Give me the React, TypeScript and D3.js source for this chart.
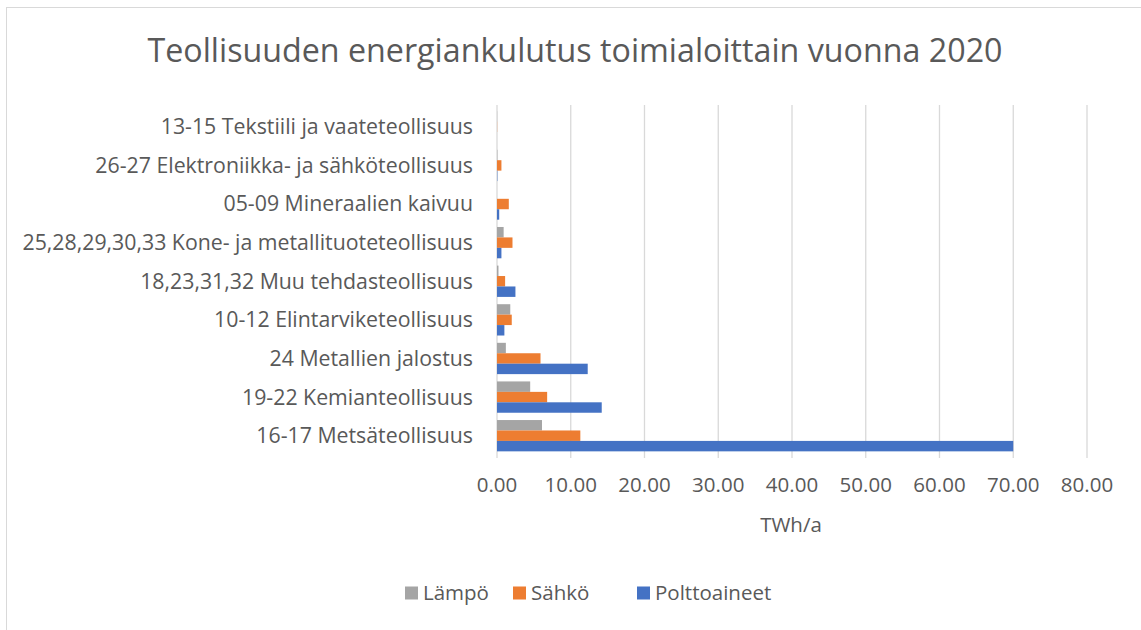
import React, { useEffect, useRef } from 'react';
import * as d3 from 'd3';

// categories, top to bottom as shown
const categories = [
  '13-15 Tekstiili ja vaateteollisuus',
  '26-27 Elektroniikka- ja sähköteollisuus',
  '05-09 Mineraalien kaivuu',
  '25,28,29,30,33 Kone- ja metallituoteteollisuus',
  '18,23,31,32 Muu tehdasteollisuus',
  '10-12 Elintarviketeollisuus',
  '24 Metallien jalostus',
  '19-22 Kemianteollisuus',
  '16-17 Metsäteollisuus',
];

const seriesNames = ['Lämpö', 'Sähkö', 'Polttoaineet'];
const seriesColors = ['#a5a5a5', '#ed7d31', '#4472c4'];

// TWh/a, same order as categories
const lampo = [0.02, 0.05, 0.0, 0.9, 0.2, 1.8, 1.2, 4.5, 6.1];
const sahko = [0.02, 0.6, 1.6, 2.1, 1.1, 2.0, 5.9, 6.8, 11.3];
const polttoaineet = [0.0, 0.05, 0.3, 0.6, 2.5, 1.0, 12.3, 14.2, 70.0];

const xTicks = [0, 10, 20, 30, 40, 50, 60, 70, 80];

const App = () => {
  const ref = useRef<SVGSVGElement>(null);

  useEffect(() => {
    const W = 1141;
    const H = 630;
    const svg = d3.select(ref.current);
    svg.selectAll('*').remove();
    svg.attr('width', W).attr('height', H);

    const font = '"Open Sans", Lato, sans-serif';
    const textColor = '#595959';
    const fs = 20.5;

    // chart frame
    svg.append('rect')
      .attr('x', 6.5).attr('y', 7.5)
      .attr('width', W).attr('height', H)
      .attr('fill', '#fff')
      .attr('stroke', '#d9d9d9').attr('stroke-width', 1);

    // title
    svg.append('text')
      .attr('x', 575).attr('y', 62)
      .attr('text-anchor', 'middle')
      .attr('font-family', font).attr('font-size', 32)
      .attr('fill', textColor)
      .attr('textLength', 855).attr('lengthAdjust', 'spacingAndGlyphs')
      .text('Teollisuuden energiankulutus toimialoittain vuonna 2020');

    const x = d3.scaleLinear().domain([0, 80]).range([497, 1087]);
    const y = d3.scaleBand().domain(categories).range([107.5, 455]).paddingInner(0).paddingOuter(0);
    const inner = d3.scaleBand().domain(seriesNames).range([0, y.bandwidth()]).paddingInner(0).paddingOuter(0.35);

    // gridlines
    svg.append('g').selectAll('line')
      .data(xTicks)
      .enter().append('line')
      .attr('x1', d => x(d)).attr('x2', d => x(d))
      .attr('y1', 105).attr('y2', 458)
      .attr('stroke', '#d9d9d9').attr('stroke-width', 1.3);

    // bars
    const values = [lampo, sahko, polttoaineet];
    seriesNames.forEach((s, si) => {
      svg.append('g').selectAll('rect')
        .data(categories)
        .enter().append('rect')
        .attr('x', x(0))
        .attr('y', d => (y(d) as number) + (inner(s) as number))
        .attr('width', (d, i) => x(values[si][i]) - x(0))
        .attr('height', inner.bandwidth())
        .attr('fill', seriesColors[si]);
    });

    // category labels
    svg.append('g').selectAll('text')
      .data(categories)
      .enter().append('text')
      .attr('x', 473)
      .attr('y', d => (y(d) as number) + y.bandwidth() / 2)
      .attr('dy', '0.35em')
      .attr('text-anchor', 'end')
      .attr('font-family', font).attr('font-size', 21.3)
      .attr('fill', textColor)
      .text(d => d);

    // x tick labels
    svg.append('g').selectAll('text')
      .data(xTicks)
      .enter().append('text')
      .attr('x', d => x(d))
      .attr('y', 492)
      .attr('text-anchor', 'middle')
      .attr('font-family', font).attr('font-size', fs)
      .attr('fill', textColor)
      .text(d => d3.format('.2f')(d));

    // axis title
    svg.append('text')
      .attr('x', 791).attr('y', 532)
      .attr('text-anchor', 'middle')
      .attr('font-family', font).attr('font-size', fs)
      .attr('fill', textColor)
      .text('TWh/a');

    // legend
    const legendX = [405, 513, 637];
    seriesNames.forEach((s, i) => {
      const g = svg.append('g').attr('transform', `translate(${legendX[i]},593)`);
      g.append('rect')
        .attr('x', 0).attr('y', -6.5)
        .attr('width', 13).attr('height', 13)
        .attr('fill', seriesColors[i]);
      g.append('text')
        .attr('x', 18).attr('y', 0)
        .attr('dy', '0.35em')
        .attr('font-family', font).attr('font-size', fs)
        .attr('fill', textColor)
        .text(s);
    });
  }, []);

  return (
    <svg ref={ref} style={{ position: 'absolute', left: 0, top: 0, display: 'block' }}></svg>
  );
};

export default App;
